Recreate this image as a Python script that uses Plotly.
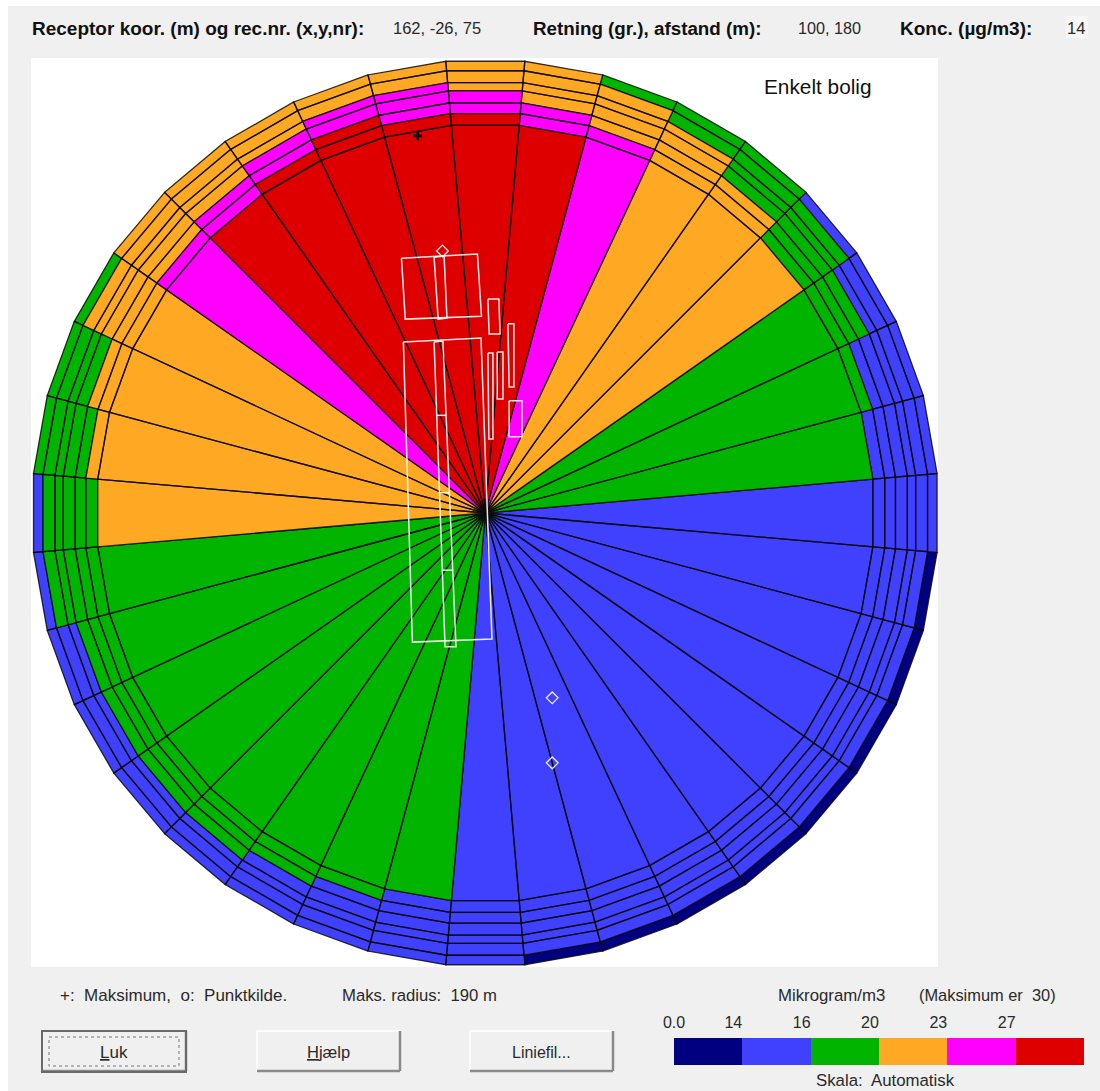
import plotly.graph_objects as go
import math

W, H = 1100, 1091

# ---------- data ----------
sector_deg = [i * 10 for i in range(36)]          # sector centre, clockwise from north
sector_half_width = 5
ring_edges_m = [0, 163, 168, 172.5, 177.5, 181, 186, 190]

# concentrations (ug/m3) per sector, one list per ring, inner to outer
conc_core = [28, 28, 25, 21, 21, 21, 18, 18, 18, 15, 15, 15, 15, 15, 15, 15, 15, 15, 15,
             18, 18, 18, 18, 18, 18, 18, 18, 21, 21, 21, 21, 25, 28, 28, 28, 28]
conc_163 = [28, 25, 25, 21, 21, 18, 18, 18, 15, 15, 15, 15, 15, 15, 15, 15, 15, 15, 15, 15,
            18, 18, 18, 18, 18, 18, 18, 18, 21, 21, 21, 25, 25, 28, 28, 28]
conc_168 = [25, 25, 21, 21, 21, 18, 18, 15, 15, 15, 15, 15, 15, 15, 15, 15, 15, 15, 15, 15, 15,
            18, 18, 18, 18, 18, 18, 18, 18, 21, 21, 21, 25, 25, 28, 25]
conc_172 = [25, 21, 21, 21, 18, 18, 18, 15, 15, 15, 15, 15, 15, 15, 15, 15, 15, 15, 15, 15, 15, 15,
            18, 18, 18, 18, 18, 18, 18, 18, 21, 21, 21, 25, 25, 25]
conc_177 = [21, 21, 21, 21, 18, 18, 15, 15, 15, 15, 15, 15, 15, 15, 15, 15, 15, 15, 15, 15, 15, 15,
            15, 15, 15, 15, 18, 18, 18, 18, 21, 21, 21, 21, 25, 25]
conc_181 = [21, 21, 21, 18, 18, 18, 15, 15, 15, 15, 15, 15, 15, 15, 15, 15, 15, 15, 15, 15, 15, 15,
            15, 15, 15, 15, 18, 18, 18, 18, 21, 21, 21, 21, 21, 21]
conc_186 = [21, 21, 18, 18, 18, 15, 15, 15, 15, 15, 13, 13, 13, 13, 13, 13, 13, 13,
            15, 15, 15, 15, 15, 15, 15, 15, 15, 15, 18, 18, 18, 21, 21, 21, 21, 21]
ring_values = [conc_core, conc_163, conc_168, conc_172, conc_177, conc_181, conc_186]

scale_limits = [0, 14, 16, 20, 23, 27, 30]
scale_labels = ["0.0", "14", "16", "20", "23", "27"]
scale_colors = ["#000080", "#4040FF", "#00B400", "#FFA823", "#FF00FF", "#DE0000"]

# building and source geometry, metres east / north of the centre
buildings_x = [[-35.2, -3.3, -1.6, -33.6], [-21.5, -17.3, -16.1, -19.8], [1.1, 5.7, 6.2, 1.6],
               [9.5, 12.0, 12.0, 10.0], [5.0, 7.4, 7.4, 5.0], [1.1, 3.2, 3.2, 1.5],
               [10.0, 15.4, 15.4, 10.0], [-34.4, -1.8, 2.8, -30.6], [-21.5, -17.8, -12.3, -16.9]]
buildings_y = [[107.0, 108.7, 82.6, 81.4], [107.4, 107.9, 81.8, 81.4], [89.8, 89.8, 75.1, 75.1],
               [79.4, 79.4, 52.9, 52.9], [67.6, 67.6, 47.9, 47.9], [67.2, 67.2, 31.1, 31.1],
               [47.1, 47.1, 32.0, 32.0], [71.8, 73.5, -52.9, -54.2], [71.8, 72.2, -56.2, -56.2]]
dividers_x = [[-20.3, -16.5], [-19.3, -15.1], [-18.2, -13.7]]
dividers_y = [[41.0, 41.0], [8.5, 8.5], [-24.0, -24.0]]
point_source_x = [-18.0, 28.1, 28.1]
point_source_y = [110.0, -77.6, -104.9]
maximum_x = [-28.3]
maximum_y = [158.3]

# ---------- layout helpers ----------
CX, CY, PX_PER_M = 485.3, 513.0, 2.382
VERTEX_FACTOR = 1.002   # rings are drawn as chords between the sector edges


def px(x):
    return x / W


def py(y):
    return 1 - y / H


def colour_of(value):
    for i in range(len(scale_colors)):
        if value < scale_limits[i + 1]:
            return scale_colors[i]
    return scale_colors[-1]


def corner(radius, deg):
    r = radius * VERTEX_FACTOR
    a = math.radians(deg)
    return r * math.sin(a), r * math.cos(a)


cells = {c: ([], []) for c in scale_colors}
for j, values in enumerate(ring_values):
    r0, r1 = ring_edges_m[j], ring_edges_m[j + 1]
    for deg, v in zip(sector_deg, values):
        a0, a1 = deg - sector_half_width, deg + sector_half_width
        pts = [corner(r0, a0), corner(r1, a0), corner(r1, a1), corner(r0, a1), corner(r0, a0)]
        xs, ys = cells[colour_of(v)]
        xs.extend([p[0] for p in pts] + [None])
        ys.extend([p[1] for p in pts] + [None])

fig = go.Figure()
for c in scale_colors:
    xs, ys = cells[c]
    if xs:
        fig.add_trace(go.Scatter(x=xs, y=ys, mode="lines", fill="toself", fillcolor=c,
                                 line=dict(color="rgba(10,10,10,0.85)", width=1.3),
                                 hoverinfo="skip", showlegend=False))

bx, by = [], []
for xs, ys in zip(buildings_x, buildings_y):
    bx += xs + [xs[0], None]
    by += ys + [ys[0], None]
for xs, ys in zip(dividers_x, dividers_y):
    bx += xs + [None]
    by += ys + [None]
fig.add_trace(go.Scatter(x=bx, y=by, mode="lines", line=dict(color="rgba(255,255,255,0.9)", width=1.5),
                         hoverinfo="skip", showlegend=False))
fig.add_trace(go.Scatter(x=point_source_x, y=point_source_y, mode="markers",
                         marker=dict(symbol="diamond-open", size=9, color="rgba(255,255,255,0.9)",
                                     line=dict(width=1.3)),
                         hoverinfo="skip", showlegend=False))
fig.add_trace(go.Scatter(x=maximum_x, y=maximum_y, mode="markers",
                         marker=dict(symbol="cross", size=7, color="#111111"),
                         hoverinfo="skip", showlegend=False))

# colour scale as a bar chart on its own axes
fig.add_trace(go.Bar(x=list(range(6)), y=[1] * 6, width=1, marker=dict(color=scale_colors, line=dict(width=0)),
                     xaxis="x2", yaxis="y2", hoverinfo="skip", showlegend=False))

shapes = []


def rect(x0, y0, x1, y1, fill=None, line=None, lw=0, dash=None, layer="below"):
    shapes.append(dict(type="rect", xref="paper", yref="paper", x0=px(x0), x1=px(x1), y0=py(y0), y1=py(y1),
                       fillcolor=fill or "rgba(0,0,0,0)", layer=layer,
                       line=dict(color=line or "rgba(0,0,0,0)", width=lw, dash=dash or "solid")))


def seg(x0, y0, x1, y1, color, lw):
    shapes.append(dict(type="line", xref="paper", yref="paper", x0=px(x0), x1=px(x1), y0=py(y0), y1=py(y1),
                       layer="below", line=dict(color=color, width=lw)))


rect(8, 6, W, H, fill="#F0F0F0")
rect(31, 58, 938, 967, fill="#FFFFFF")
rect(1066, 16, 1088, 38, fill="#F7F7F7")

for x0, x1 in [(42, 186), (257, 400), (470, 613)]:
    seg(x0, 1031, x1, 1031, "#FFFFFF", 1.5)
    seg(x0, 1031, x0, 1071, "#FFFFFF", 1.5)
    seg(x0, 1071, x1, 1071, "#8A8A8A", 2.5)
    seg(x1, 1031, x1, 1071, "#8A8A8A", 2.5)
rect(42, 1031, 186, 1072, line="#6A6A6A", lw=2)
rect(49, 1037, 179, 1066, line="#777777", lw=1, dash="dot")

ann = []


def text(s, x, y, size=16.8, anchor="left", bold=False, color="#2A2A2A"):
    ann.append(dict(text=f"<b>{s}</b>" if bold else s, x=px(x - 2 if anchor == "left" else x), y=py(y),
                    xref="paper", yref="paper", xanchor=anchor, yanchor="middle", showarrow=False,
                    font=dict(family="Liberation Sans", size=size, color=color)))


text("Receptor koor. (m) og rec.nr. (x,y,nr):", 32, 28, 19, bold=True, color="#111111")
text("162, -26, 75", 393, 28, 16.5)
text("Retning (gr.), afstand (m):", 533, 28, 18.8, bold=True, color="#111111")
text("100, 180", 798, 28, 16.2)
text("Konc. (µg/m3):", 900, 28, 19, bold=True, color="#111111")
text("14", 1067, 28, 16.5)
text("Enkelt bolig", 764, 86, 20.8, color="#111111")
text("+:  Maksimum,  o:  Punktkilde.", 60, 995, 17)
text("Maks. radius:  190 m", 342, 995, 16.7)
text("Mikrogram/m3", 831, 995, 16.8, anchor="center")
text("(Maksimum er  30)", 987, 995, 16.4, anchor="center")
text("Skala:  Automatisk", 885, 1080, 16.8, anchor="center")
text("<u>L</u>uk", 114, 1052, 17, anchor="center")
text("<u>H</u>jælp", 328, 1052, 16.5, anchor="center")
text("Liniefil...", 541, 1052, 16, anchor="center")

bar_unit_px = (1084 - 674) / 6
label_offset = [0.0] + [-9 / bar_unit_px] * 5

fig.update_layout(
    width=W, height=H, margin=dict(l=0, r=0, t=0, b=0, pad=0, autoexpand=False),
    paper_bgcolor="#FFFFFF", plot_bgcolor="rgba(0,0,0,0)", showlegend=False, bargap=0,
    shapes=shapes, annotations=ann,
    xaxis=dict(domain=[0, 1], range=[(0 - CX) / PX_PER_M, (W - CX) / PX_PER_M], visible=False, fixedrange=True),
    yaxis=dict(domain=[0, 1], range=[(CY - H) / PX_PER_M, CY / PX_PER_M], visible=False, fixedrange=True),
    xaxis2=dict(domain=[px(674), px(1084)], range=[-0.5, 5.5], anchor="y2", side="top",
                tickmode="array", tickvals=[i - 0.5 + label_offset[i] for i in range(6)],
                ticktext=scale_labels, ticks="", showgrid=False, zeroline=False, showline=False,
                ticklabelstandoff=6, tickfont=dict(family="Liberation Sans", size=16, color="#2A2A2A"),
                fixedrange=True),
    yaxis2=dict(domain=[py(1065), py(1038)], range=[0, 1], anchor="x2", visible=False, fixedrange=True),
)

fig.write_html("out.html", config=dict(displayModeBar=False),
               post_script="document.body.style.margin='0';document.body.style.overflow='hidden';")
